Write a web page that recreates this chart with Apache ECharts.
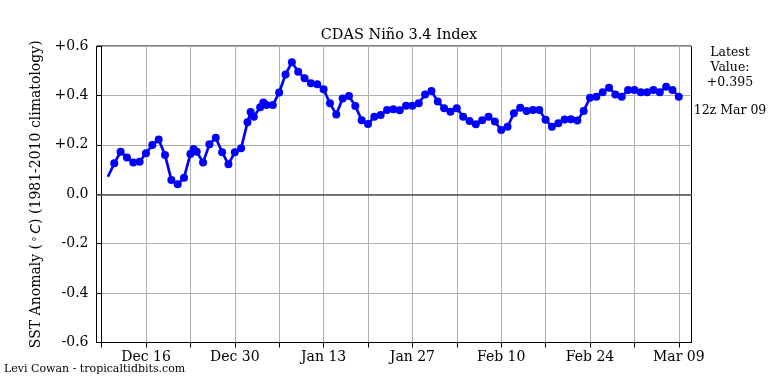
<!DOCTYPE html>
<html><head><meta charset="utf-8">
<script src="https://cdn.jsdelivr.net/npm/echarts@6/dist/echarts.min.js"></script>
<style>html,body{margin:0;padding:0;background:#fff}#c{width:768px;height:384px}</style>
</head><body><div id="c"></div>
<script>
// Days counted from Dec 09 (day 0); daily values, a few half-day extra points
const days = [1,2,3,4,5,6,7,8,9,10,11,12,13,14,14.5,15,16,17,18,19,20,21,22,23,23.5,24,25,25.5,26,27,28,29,30,31,32,33,34,35,36,37,38,39,40,41,42,43,44,45,46,47,48,49,50,51,52,53,54,55,56,57,58,59,60,61,62,63,64,65,66,67,68,69,70,71,72,73,74,75,76,77,78,79,80,81,82,83,84,85,86,87,88,89,90,91];
const sstAnomaly = [0.071,0.125,0.172,0.149,0.129,0.132,0.166,0.199,0.222,0.159,0.058,0.040,0.067,0.163,0.183,0.172,0.129,0.202,0.229,0.170,0.121,0.170,0.186,0.291,0.333,0.314,0.352,0.371,0.361,0.361,0.412,0.485,0.534,0.496,0.469,0.449,0.445,0.425,0.368,0.323,0.388,0.398,0.357,0.300,0.284,0.314,0.321,0.341,0.344,0.340,0.358,0.358,0.368,0.404,0.418,0.375,0.348,0.334,0.348,0.314,0.296,0.283,0.300,0.314,0.294,0.260,0.273,0.328,0.350,0.337,0.341,0.341,0.302,0.273,0.287,0.303,0.304,0.298,0.337,0.391,0.395,0.413,0.431,0.404,0.395,0.422,0.422,0.413,0.413,0.422,0.413,0.435,0.422,0.395];
const xTickDays = [0,7,14,21,28,35,42,49,56,63,70,77,84,91];
const xLabelDays = [7,21,35,49,63,77,91];
const xLabelTexts = ['Dec 16','Dec 30','Jan 13','Jan 27','Feb 10','Feb 24','Mar 09'];
const yTickLabels = ['-0.6','-0.4','-0.2','0.0','+0.2','+0.4','+0.6'];
const latestTime = '12z Mar 09';

const FONT = 'DejaVu Serif';
const seriesData = days.map((d, i) => i === 0 ? {value: [d, sstAnomaly[i]], symbol: 'none'} : [d, sstAnomaly[i]]);
const latest = sstAnomaly[sstAnomaly.length - 1];

const chart = echarts.init(document.getElementById('c'), null, {renderer: 'canvas'});
chart.setOption({
  animation: false,
  backgroundColor: '#fff',
  title: {
    text: 'CDAS Niño 3.4 Index', left: 394, top: 23, textAlign: 'center',
    textStyle: {fontFamily: FONT, fontSize: 14.5, fontWeight: 'normal', color: '#000'}
  },
  grid: {left: 96.5, right: 76.5, top: 46, bottom: 41.5, show: true, borderColor: '#000', borderWidth: 1, backgroundColor: 'transparent'},
  xAxis: {
    type: 'value', min: -0.8, max: 93.0,
    axisLine: {show: true, onZero: false, lineStyle: {color: '#000', width: 1}},
    axisTick: {show: true, customValues: xTickDays, length: 5, lineStyle: {color: '#000'}},
    axisLabel: {
      customValues: xLabelDays, margin: 8,
      fontFamily: FONT, fontSize: 14, color: '#000',
      formatter: v => xLabelTexts[xLabelDays.indexOf(Math.round(v))] || ''
    },
    splitLine: {show: true, lineStyle: {color: '#b0b0b0', width: 1}}
  },
  yAxis: {
    type: 'value', min: -0.6, max: 0.6, interval: 0.2,
    axisLine: {show: true, lineStyle: {color: '#000'}},
    axisTick: {show: true, length: 5, lineStyle: {color: '#000'}},
    axisLabel: {
      margin: 8, fontFamily: FONT, fontSize: 14, color: '#000',
      formatter: v => yTickLabels[Math.round((v + 0.6) / 0.2)]
    },
    splitLine: {show: true, lineStyle: {color: '#b0b0b0', width: 1}},
    name: '{a|SST Anomaly (}{s|∘}{i|C}{a|) (1981-2010 climatology)}',
    nameLocation: 'middle', nameRotate: 90, nameGap: 52,
    nameTextStyle: {
      fontFamily: FONT, fontSize: 14, color: '#000',
      rich: {
        a: {fontFamily: FONT, fontSize: 14, color: '#000'},
        s: {fontFamily: 'DejaVu Sans', fontSize: 10, color: '#000', verticalAlign: 'top', padding: [0, 2, 4, 2]},
        i: {fontFamily: 'DejaVu Sans', fontStyle: 'italic', fontSize: 14, color: '#000'}
      }
    }
  },
  series: [{
    type: 'line',
    data: seriesData,
    symbol: 'circle', symbolSize: 8, showAllSymbol: true,
    lineStyle: {color: '#0000ff', width: 2.7},
    itemStyle: {color: '#0000ff'},
    z: 3,
    markLine: {
      silent: true, symbol: 'none', label: {show: false},
      lineStyle: {color: '#555', width: 1.6, type: 'solid'},
      data: [{yAxis: 0}], z: 2
    }
  }],
  graphic: [
    {type: 'text', style: {x: 730, y: 45, text: 'Latest\nValue:\n' + (latest >= 0 ? '+' : '') + latest.toFixed(3), fontFamily: FONT, fontSize: 12.5, lineHeight: 15, fill: '#000', align: 'center', verticalAlign: 'top'}},
    {type: 'text', style: {x: 730, y: 111, text: latestTime, fontFamily: FONT, fontSize: 12.5, fill: '#000', align: 'center', verticalAlign: 'middle'}},
    {type: 'text', style: {x: 4, y: 369, text: 'Levi Cowan - tropicaltidbits.com', fontFamily: FONT, fontSize: 11, fill: '#000', align: 'left', verticalAlign: 'middle'}}
  ]
});
</script></body></html>
